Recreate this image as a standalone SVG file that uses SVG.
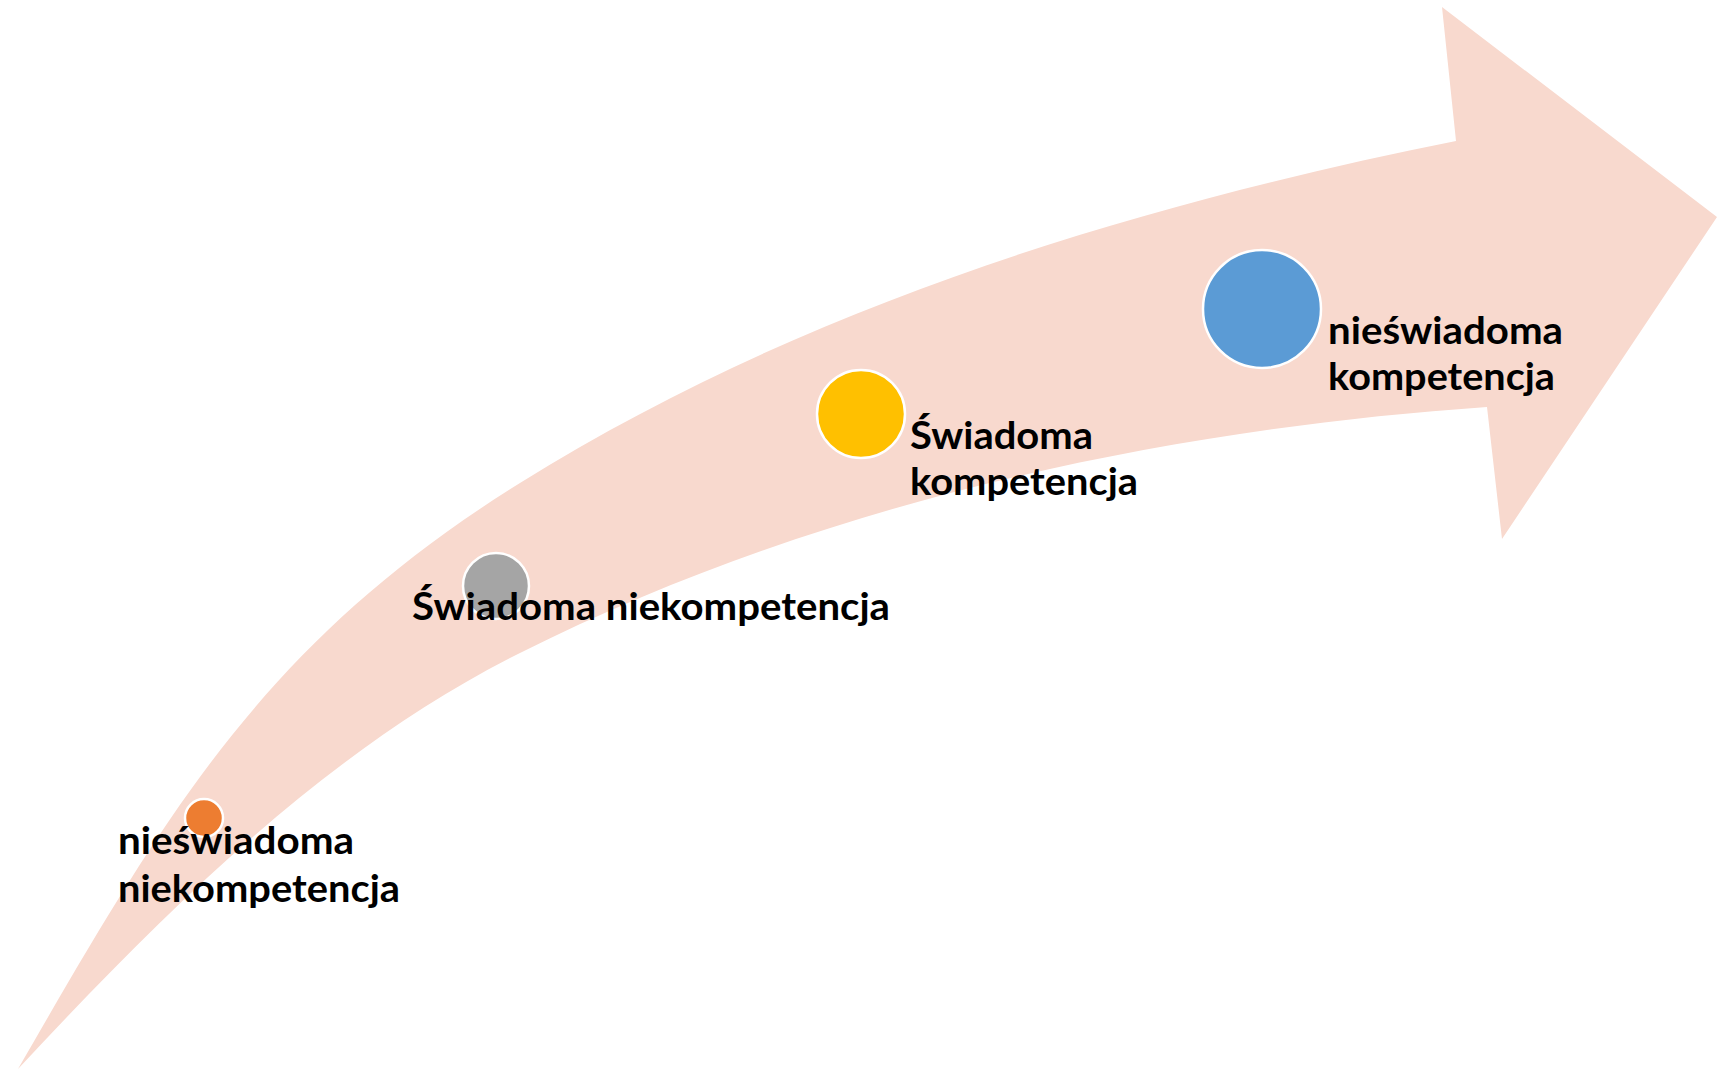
<svg xmlns="http://www.w3.org/2000/svg" width="1717" height="1069" viewBox="0 0 1717 1069">
<style>
.lbl{font-family:Lato,"Open Sans","Liberation Sans",sans-serif;font-weight:700;font-size:38px;fill:#000}
.dot{stroke:#fff;stroke-width:2.5}
</style>
<rect width="1717" height="1069" fill="#fff"/>
<g id="arrow">
<path fill="#F8D9CE" d="M18,1069 C168,809 265,642 520,483 C802,307 1131,206 1456,141 L1442,7 L1717,217 L1502,539 L1487,407 C1155,430 817.7,504.2 520,653 C326,750 165.6,910.6 18,1069 Z"/>
</g>
<g id="connectors"></g>
<g id="node-1">
<circle class="dot" cx="204" cy="818" r="19" fill="#ED7D31"/>
<text class="lbl" x="118" y="854" textLength="236" lengthAdjust="spacingAndGlyphs">nieświadoma</text>
<text class="lbl" x="118" y="902" textLength="282" lengthAdjust="spacingAndGlyphs">niekompetencja</text>
</g>
<g id="node-2">
<circle class="dot" cx="496" cy="586" r="33" fill="#A5A5A5"/>
<text class="lbl" x="412" y="620" textLength="478" lengthAdjust="spacingAndGlyphs">Świadoma niekompetencja</text>
</g>
<g id="node-3">
<circle class="dot" cx="861" cy="414" r="44" fill="#FFC000"/>
<text class="lbl" x="910" y="449" textLength="183" lengthAdjust="spacingAndGlyphs">Świadoma</text>
<text class="lbl" x="910" y="495" textLength="228" lengthAdjust="spacingAndGlyphs">kompetencja</text>
</g>
<g id="node-4">
<circle class="dot" cx="1262" cy="309" r="59" fill="#5B9BD5"/>
<text class="lbl" x="1328" y="344" textLength="235" lengthAdjust="spacingAndGlyphs">nieświadoma</text>
<text class="lbl" x="1328" y="390" textLength="227" lengthAdjust="spacingAndGlyphs">kompetencja</text>
</g>
</svg>
